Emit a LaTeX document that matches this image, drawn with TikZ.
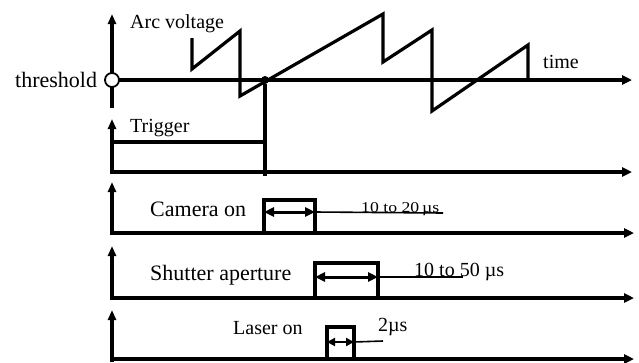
\documentclass[tikz,border=0pt]{standalone}
\usepackage{fontspec}
\setmainfont{Liberation Serif}
\usetikzlibrary{arrows.meta}
\begin{document}
\begin{tikzpicture}[x=1pt,y=-1pt,
  axis/.style={line width=3.2pt,-{Triangle[length=10pt,width=9pt]}},
  vaxis/.style={line width=3.2pt,-{Triangle[length=10pt,width=8pt]}},
  wave/.style={line width=3.2pt,line join=miter},
  dur/.style={line width=3pt,{Triangle[length=10pt,width=9pt]}-{Triangle[length=10pt,width=9pt]}},
  lead/.style={line width=1.6pt},
  lbl/.style={inner sep=0pt,anchor=base west,font=\fontsize{20}{24}\selectfont},
  biglbl/.style={inner sep=0pt,anchor=base west,font=\fontsize{22}{26}\selectfont}]
\useasboundingbox (0,0) rectangle (639,362);
% ---------- Arc voltage panel
\coordinate (a0) at (112,108);
\coordinate (a1) at (112,14);
\draw[vaxis] (a0) -- (a1);
\coordinate (t0) at (112,80);
\coordinate (t1) at (632,80);
\draw[axis] (t0) -- (t1);
\draw[wave] (192,38) -- (192,69) -- (240,31) -- (240,96) -- (383,14) -- (383,62)
  -- (432,30) -- (432,111) -- (528,45) -- (528,80);
\node[circle,draw,line width=1.8pt,fill=white,minimum size=14pt,inner sep=0pt] (thr) at (112,80) {};
\node[biglbl] (thrlbl) at (15,87) {threshold};
\node[lbl] (arclbl) at (130,28) {Arc voltage};
\node[lbl] (timelbl) at (543,68) {time};
\node[circle,fill=black,minimum size=8pt,inner sep=0pt] (cross) at (265,80) {};
% ---------- Trigger panel
\coordinate (b0) at (112,174);
\coordinate (b1) at (112,119);
\draw[vaxis] (b0) -- (b1);
\coordinate (bl) at (112,172);
\coordinate (br) at (632,172);
\draw[axis] (bl) -- (br);
\coordinate (trs) at (112,142);
\coordinate (tre) at (265,142);
\coordinate (trb) at (265,176);
\draw[wave] (trs) -- (tre);
\draw[wave] (cross) -- (trb);
\node[lbl] (triglbl) at (130,132) {Trigger};
% ---------- Camera panel
\coordinate (c0) at (112,235);
\coordinate (c1) at (112,182);
\draw[vaxis] (c0) -- (c1);
\coordinate (cl) at (112,233);
\coordinate (cr) at (634,233);
\draw[axis] (cl) -- (cr);
\coordinate (cp0) at (264,233);
\coordinate (cp1) at (264,200);
\coordinate (cp2) at (315,200);
\coordinate (cp3) at (315,233);
\draw[wave] (cp0) -- (cp1) -- (cp2) -- (cp3);
\coordinate (cda) at (264,212);
\coordinate (cdb) at (315,212);
\coordinate (cdc) at (443,213);
\draw[dur] (cda) -- (cdb);
\draw[lead] (cdb) -- (cdc);
\node[biglbl] (camlbl) at (150,216) {Camera on};
\node[inner sep=0pt,anchor=base west,font=\fontsize{15}{18}\selectfont,xscale=1.18] (camdur) at (361,212) {10 to 20\,µs};
% ---------- Shutter panel
\coordinate (s0) at (112,300);
\coordinate (s1) at (112,246);
\draw[vaxis] (s0) -- (s1);
\coordinate (sl) at (112,298);
\coordinate (sr) at (634,298);
\draw[axis] (sl) -- (sr);
\coordinate (sp0) at (315,298);
\coordinate (sp1) at (315,263);
\coordinate (sp2) at (378,263);
\coordinate (sp3) at (378,298);
\draw[wave] (sp0) -- (sp1) -- (sp2) -- (sp3);
\coordinate (sda) at (315,277);
\coordinate (sdb) at (378,277);
\coordinate (sdc) at (463,277);
\draw[dur] (sda) -- (sdb);
\draw[lead] (sdb) -- (sdc);
\node[biglbl] (shutlbl) at (150,280) {Shutter aperture};
\node[lbl] (shutdur) at (414,276) {10 to 50 µs};
% ---------- Laser panel
\coordinate (l0) at (112,362);
\coordinate (l1) at (112,310);
\draw[vaxis] (l0) -- (l1);
\coordinate (ll) at (112,359);
\coordinate (lr) at (634,359);
\draw[axis] (ll) -- (lr);
\coordinate (lp0) at (327,359);
\coordinate (lp1) at (327,327);
\coordinate (lp2) at (354,327);
\coordinate (lp3) at (354,359);
\draw[wave] (lp0) -- (lp1) -- (lp2) -- (lp3);
\coordinate (lda) at (327,342);
\coordinate (ldb) at (354,342);
\coordinate (ldc) at (383,341);
\draw[line width=2.6pt,{Triangle[length=8pt,width=8pt]}-{Triangle[length=8pt,width=8pt]}] (lda) -- (ldb);
\draw[lead] (ldb) -- (ldc);
\node[lbl] (laslbl) at (233,334) {Laser on};
\node[lbl] (lasdur) at (378,331) {2µs};
\end{tikzpicture}
\end{document}
